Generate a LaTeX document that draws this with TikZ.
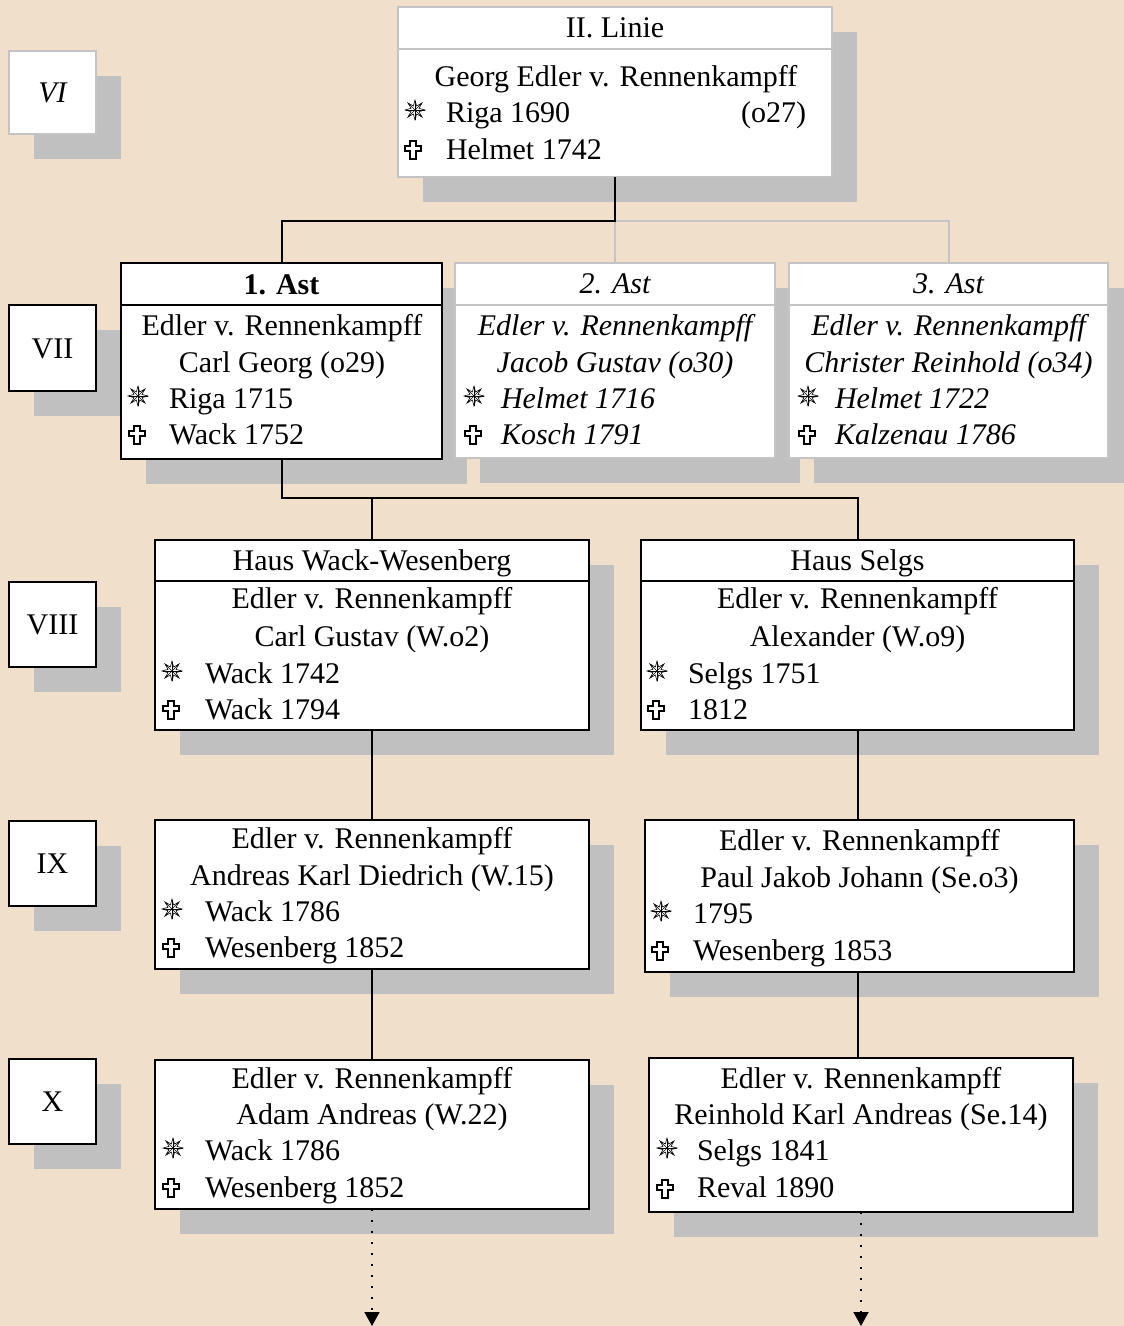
\documentclass[tikz,border=0pt]{standalone}
\usepackage{fontspec}
\setmainfont{Liberation Serif}
\usetikzlibrary{shadows,arrows.meta,calc}
\definecolor{bgc}{HTML}{F0DFCB}
\definecolor{shc}{HTML}{C0C0C0}
\definecolor{gline}{HTML}{C4C4C4}
\tikzset{
  box/.style={rectangle, draw=black, line width=2pt, fill=white, inner sep=0pt, outer sep=0pt,
    drop shadow={shadow xshift=25pt, shadow yshift=-25pt, fill=shc, opacity=1}},
  gbox/.style={box, draw=gline},
  txt/.style={inner sep=0pt, outer sep=0pt, font=\fontsize{30}{36}\selectfont},
  itxt/.style={inner sep=0pt, outer sep=0pt, font=\fontsize{30}{36}\selectfont\itshape},
  btxt/.style={inner sep=0pt, outer sep=0pt, font=\fontsize{30}{36}\selectfont\bfseries},
  conn/.style={line width=2pt, draw=black},
  gconn/.style={line width=2pt, draw=gline},
  dotconn/.style={line width=1.6pt, draw=black, dash pattern=on 1.6pt off 9.4pt,
    -{Triangle[width=15pt,length=14pt]}},
  dstar/.pic={
    \draw[line width=0.6pt, fill=white]
      (90:10) -- (112.5:4.3) -- (135:10) -- (157.5:4.3) -- (180:10) -- (202.5:4.3)
      -- (225:10) -- (247.5:4.3) -- (270:10) -- (292.5:4.3) -- (315:10) -- (337.5:4.3)
      -- (0:10) -- (22.5:4.3) -- (45:10) -- (67.5:4.3) -- cycle;
    \foreach \a in {0,45,...,315} \draw[line width=0.5pt] (0,0) -- (\a:9.5);
  },
  dcross/.pic={
    \draw[line width=2.1pt, fill=white, line join=miter]
      (-2.6,-8.8) -- (2.6,-8.8) -- (2.6,-4.2) -- (7.8,-4.2) -- (7.8,1.2) -- (2.6,1.2)
      -- (2.6,8.8) -- (-2.6,8.8) -- (-2.6,1.2) -- (-7.8,1.2) -- (-7.8,-4.2) -- (-2.6,-4.2) -- cycle;
  }
}
% \boxat{style}{name}{x1}{y1}{x2}{y2}
\newcommand\boxat[6]{%
  \node[#1, anchor=north west, minimum width={(#5-#3)*1pt}, minimum height={(#6-#4)*1pt}] (#2) at (#3,#4) {};}

\begin{document}
\begin{tikzpicture}[x=1pt,y=-1pt]
\useasboundingbox (0,0) rectangle (1124,1326);
\fill[bgc] (0,0) rectangle (1124,1326);

% ---------- generation labels ----------
\boxat{gbox}{g6}{9}{51}{96}{134}
\boxat{box}{g7}{9}{305}{96}{391}
\boxat{box}{g8}{9}{582}{96}{667}
\boxat{box}{g9}{9}{821}{96}{906}
\boxat{box}{g10}{9}{1059}{96}{1144}
\node[itxt, anchor=base] (g6t) at (52.5,102) {VI};
\node[txt, anchor=base] (g7t) at (52.5,358) {VII};
\node[txt, anchor=base] (g8t) at (52.5,634) {VIII};
\node[txt, anchor=base] (g9t) at (52.5,873) {IX};
\node[txt, anchor=base] (g10t) at (52.5,1111) {X};

% ---------- II. Linie ----------
\boxat{gbox}{linh}{398}{7}{832}{49}
\boxat{gbox}{linb}{398}{49}{832}{177}
\node[txt, anchor=base] (lint) at (615,37) {II. Linie};
\node[txt, anchor=base] (lin1) at (616,86) {Georg Edler v. Rennenkampff};
\pic at (415,110) {dstar};
\node[txt, anchor=base west] (lin2) at (446,122) {Riga 1690};
\node[txt, anchor=base east] (lin2b) at (806,122) {(o27)};
\pic at (413,150) {dcross};
\node[txt, anchor=base west] (lin3) at (446,159) {Helmet 1742};

% ---------- 1. Ast ----------
\boxat{box}{a1h}{121}{263}{442}{305}
\boxat{box}{a1b}{121}{305}{442}{459}
\node[btxt, anchor=base] (a1t) at (281.5,294) {1. Ast};
\node[txt, anchor=base] (a11) at (282,335) {Edler v. Rennenkampff};
\node[txt, anchor=base] (a12) at (282,372) {Carl Georg (o29)};
\pic at (138,396) {dstar};
\node[txt, anchor=base west] (a13) at (169,408) {Riga 1715};
\pic at (137,435) {dcross};
\node[txt, anchor=base west] (a14) at (169,444) {Wack 1752};

% ---------- 2. Ast ----------
\boxat{gbox}{a2h}{455}{263}{775}{305}
\boxat{gbox}{a2b}{455}{305}{775}{458}
\node[itxt, anchor=base] (a2t) at (615,293) {2. Ast};
\node[itxt, anchor=base] (a21) at (615,335) {Edler v. Rennenkampff};
\node[itxt, anchor=base] (a22) at (615,372) {Jacob Gustav (o30)};
\pic at (474,396) {dstar};
\node[itxt, anchor=base west] (a23) at (501,408) {Helmet 1716};
\pic at (473,435) {dcross};
\node[itxt, anchor=base west] (a24) at (501,444) {Kosch 1791};

% ---------- 3. Ast ----------
\boxat{gbox}{a3h}{789}{263}{1108}{305}
\boxat{gbox}{a3b}{789}{305}{1108}{458}
\node[itxt, anchor=base] (a3t) at (948.5,293) {3. Ast};
\node[itxt, anchor=base] (a31) at (948.5,335) {Edler v. Rennenkampff};
\node[itxt, anchor=base] (a32) at (948.5,372) {Christer Reinhold (o34)};
\pic at (808,396) {dstar};
\node[itxt, anchor=base west] (a33) at (835,408) {Helmet 1722};
\pic at (807,435) {dcross};
\node[itxt, anchor=base west] (a34) at (835,444) {Kalzenau 1786};

% ---------- Haus Wack-Wesenberg ----------
\boxat{box}{hwh}{155}{540}{589}{581}
\boxat{box}{hwb}{155}{581}{589}{730}
\node[txt, anchor=base] (hwt) at (372,570) {Haus Wack-Wesenberg};
\node[txt, anchor=base] (hw1) at (372,608) {Edler v. Rennenkampff};
\node[txt, anchor=base] (hw2) at (372,646) {Carl Gustav (W.o2)};
\pic at (172,671) {dstar};
\node[txt, anchor=base west] (hw3) at (205,683) {Wack 1742};
\pic at (171,710) {dcross};
\node[txt, anchor=base west] (hw4) at (205,719) {Wack 1794};

% ---------- Haus Selgs ----------
\boxat{box}{hsh}{641}{540}{1074}{581}
\boxat{box}{hsb}{641}{581}{1074}{730}
\node[txt, anchor=base] (hst) at (857.5,570) {Haus Selgs};
\node[txt, anchor=base] (hs1) at (857.5,608) {Edler v. Rennenkampff};
\node[txt, anchor=base] (hs2) at (857.5,646) {Alexander (W.o9)};
\pic at (657,671) {dstar};
\node[txt, anchor=base west] (hs3) at (688,683) {Selgs 1751};
\pic at (656,710) {dcross};
\node[txt, anchor=base west] (hs4) at (688,719) {1812};

% ---------- IX ----------
\boxat{box}{p9l}{155}{820}{589}{969}
\node[txt, anchor=base] (p9l1) at (372,848) {Edler v. Rennenkampff};
\node[txt, anchor=base] (p9l2) at (372,885) {Andreas Karl Diedrich (W.15)};
\pic at (172,909) {dstar};
\node[txt, anchor=base west] (p9l3) at (205,921) {Wack 1786};
\pic at (171,948) {dcross};
\node[txt, anchor=base west] (p9l4) at (205,957) {Wesenberg 1852};

\boxat{box}{p9r}{645}{820}{1074}{972}
\node[txt, anchor=base] (p9r1) at (859.5,850) {Edler v. Rennenkampff};
\node[txt, anchor=base] (p9r2) at (859.5,887) {Paul Jakob Johann (Se.o3)};
\pic at (661,911) {dstar};
\node[txt, anchor=base west] (p9r3) at (693,923) {1795};
\pic at (660,951) {dcross};
\node[txt, anchor=base west] (p9r4) at (693,960) {Wesenberg 1853};

% ---------- X ----------
\boxat{box}{p10l}{155}{1060}{589}{1209}
\node[txt, anchor=base] (p10l1) at (372,1088) {Edler v. Rennenkampff};
\node[txt, anchor=base] (p10l2) at (372,1124) {Adam Andreas (W.22)};
\pic at (173,1148) {dstar};
\node[txt, anchor=base west] (p10l3) at (205,1160) {Wack 1786};
\pic at (171,1188) {dcross};
\node[txt, anchor=base west] (p10l4) at (205,1197) {Wesenberg 1852};

\boxat{box}{p10r}{649}{1058}{1073}{1212}
\node[txt, anchor=base] (p10r1) at (861,1088) {Edler v. Rennenkampff};
\node[txt, anchor=base] (p10r2) at (861,1124) {Reinhold Karl Andreas (Se.14)};
\pic at (667,1148) {dstar};
\node[txt, anchor=base west] (p10r3) at (697,1160) {Selgs 1841};
\pic at (665,1189) {dcross};
\node[txt, anchor=base west] (p10r4) at (697,1197) {Reval 1890};

% ---------- connectors ----------
\coordinate (j1) at (615,221);
\coordinate (j2) at (281.5,498);
\coordinate (e1) at (372,1326);
\coordinate (e2) at (861,1326);
\draw[gconn] (j1) -| (a3h.north);
\draw[gconn] (j1) -- (a2h.north);
\draw[conn] (linb.south) -- (j1) -| (a1h.north);
\draw[conn] (a1b.south) -- (j2) -| (hsh.north);
\draw[conn] (j2) -| (hwh.north);
\draw[conn] (hwb.south) -- (p9l.north);
\draw[conn] (hsb.south) -- (hsb.south |- p9r.north);
\draw[conn] (p9l.south) -- (p10l.north);
\draw[conn] (hsb.south |- p9r.south) -- (hsb.south |- p10r.north);
\draw[dotconn] (p10l.south) -- (e1);
\draw[dotconn] (p10r.south) -- (e2);
\end{tikzpicture}
\end{document}
